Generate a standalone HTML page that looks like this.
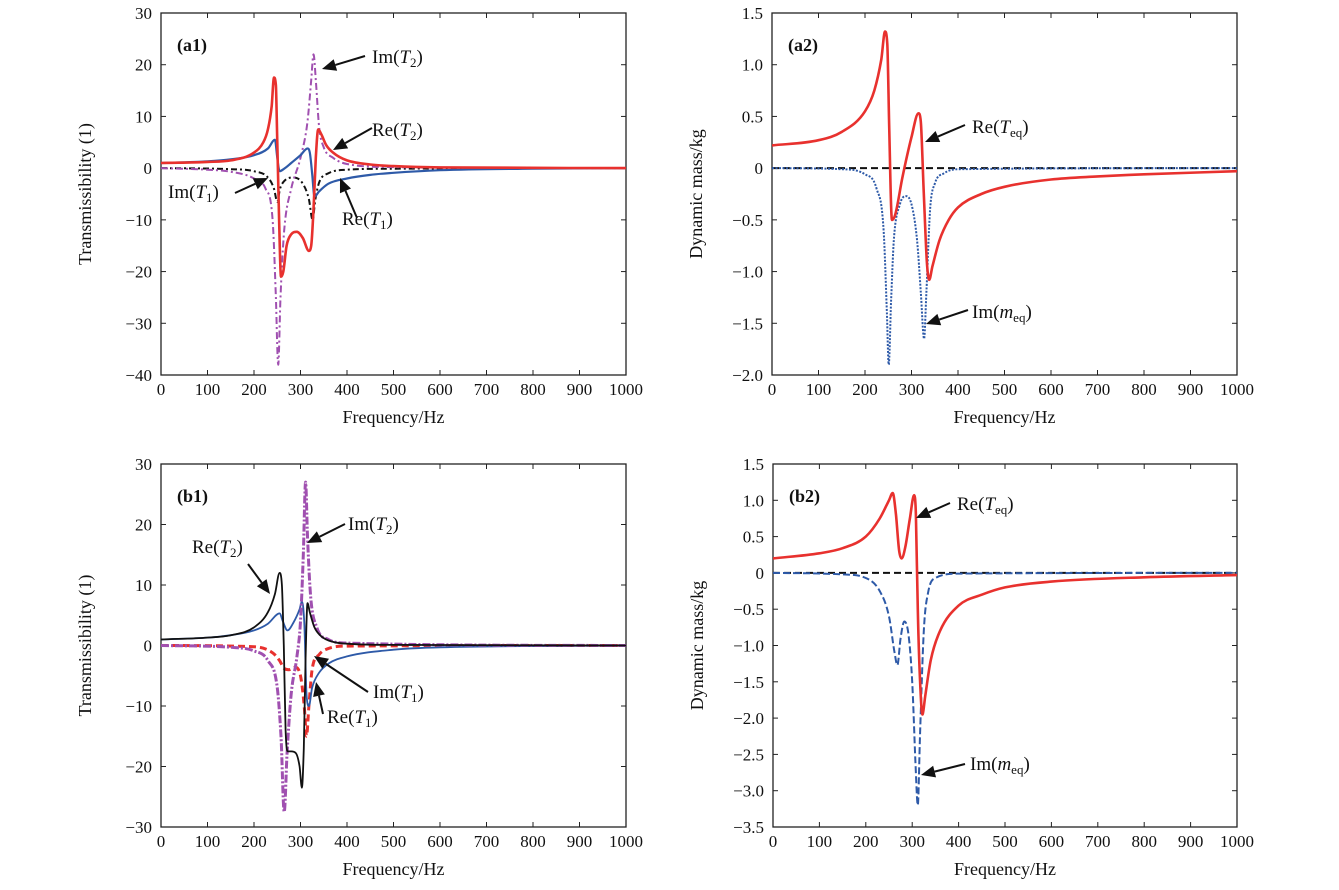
<!DOCTYPE html>
<html><head><meta charset="utf-8">
<style>
html,body{margin:0;padding:0;background:#fff;}
svg{display:block;font-family:"Liberation Serif",serif;}
</style></head>
<body>
<svg id="fig" width="1339" height="890" viewBox="0 0 1339 890" xmlns="http://www.w3.org/2000/svg"></svg>
<script>
// ---- data: [frequency Hz, value] samples ----
const xTicks = [0,100,200,300,400,500,600,700,800,900,1000];
const a1Ticks = [30,20,10,0,-10,-20,-30,-40];
const a2Ticks = [1.5,1.0,0.5,0,-0.5,-1.0,-1.5,-2.0];
const b1Ticks = [30,20,10,0,-10,-20,-30];
const b2Ticks = [1.5,1.0,0.5,0,-0.5,-1.0,-1.5,-2.0,-2.5,-3.0,-3.5];

const a1ReT2 = [[0,1],[100,1.2],[150,1.5],[200,3],[220,5],[230,7.5],[238,12],[243,17.5],[247,16],[250,5],[254,-10],[258,-21],[263,-20],[270,-15],[280,-12.8],[292,-12.3],[305,-13.5],[318,-16],[323,-15],[328,-8],[333,2],[338,7.5],[345,6.5],[355,4.5],[370,3],[400,1.5],[450,0.7],[500,0.4],[600,0.15],[1000,0]];
const a1ReT1 = [[0,1],[100,1.3],[150,1.7],[200,2.5],[230,3.8],[245,5.5],[250,2],[255,-0.6],[265,-0.1],[280,1],[300,2.5],[315,3.8],[320,3],[325,-1],[330,-5.5],[340,-4.5],[360,-3],[400,-2],[450,-1.3],[500,-0.9],[600,-0.4],[800,-0.1],[1000,0]];
const a1ImT2 = [[0,0],[100,-0.3],[150,-0.7],[200,-2],[225,-4],[240,-10],[247,-25],[252,-38],[257,-25],[265,-12],[280,-4],[300,2],[315,9],[323,17],[328,22],[333,17],[340,8],[350,4],[370,2],[400,0.8],[500,0.2],[1000,0]];
const a1ImT1 = [[0,0],[150,-0.2],[200,-0.6],[230,-1.8],[243,-4],[250,-6.5],[256,-4],[265,-2.5],[285,-1.8],[305,-3],[318,-6],[326,-10],[332,-6],[340,-2.8],[360,-1],[400,-0.3],[500,-0.1],[1000,0]];

const a2Re = [[0,0.22],[100,0.27],[150,0.35],[200,0.55],[220,0.75],[235,1.05],[243,1.32],[248,1.2],[252,0.4],[258,-0.5],[265,-0.45],[280,-0.1],[300,0.3],[315,0.53],[320,0.45],[326,-0.2],[333,-0.9],[338,-1.08],[345,-0.95],[360,-0.7],[380,-0.5],[400,-0.38],[450,-0.25],[500,-0.18],[600,-0.11],[700,-0.08],[800,-0.06],[1000,-0.03]];
const a2Im = [[0,0],[150,-0.01],[200,-0.06],[225,-0.2],[240,-0.6],[247,-1.4],[251,-1.9],[256,-1.3],[262,-0.7],[275,-0.35],[288,-0.27],[300,-0.35],[312,-0.7],[320,-1.2],[327,-1.65],[332,-1.2],[340,-0.4],[350,-0.15],[370,-0.05],[400,-0.01],[1000,0]];
const zeroLine = [[0,0],[1000,0]];

const b1ReT2 = [[0,1],[100,1.3],[150,1.7],[200,3],[230,5.5],[245,8.5],[255,12],[260,10],[264,0],[268,-14],[273,-17.5],[280,-17.5],[290,-17.8],[298,-20],[303,-23.5],[307,-17],[311,-2],[315,7],[320,5.5],[330,3],[345,1.5],[370,0.6],[400,0.3],[500,0.1],[1000,0]];
const b1ReT1 = [[0,1],[100,1.3],[150,1.7],[200,2.5],[230,3.6],[255,5.3],[262,4],[272,2.5],[285,3.8],[298,6],[303,7.2],[308,4],[313,-8],[318,-10],[325,-7],[340,-4.5],[360,-3],[400,-1.8],[500,-0.7],[600,-0.3],[1000,0]];
const b1ImT2 = [[0,0],[150,-0.3],[200,-0.9],[230,-2.5],[250,-7],[258,-15],[265,-27.5],[271,-18],[280,-8],[292,-2],[300,4],[306,15],[311,27],[315,18],[322,8],[335,3],[360,1],[400,0.4],[1000,0]];
const b1ImT1 = [[0,0],[200,-0.2],[240,-1.2],[255,-2.5],[265,-3.8],[275,-4],[288,-3.6],[300,-5],[308,-10],[313,-15],[318,-10],[325,-4],[340,-1.5],[360,-0.5],[400,-0.1],[1000,0]];

const b2Re = [[0,0.2],[100,0.27],[150,0.34],[200,0.5],[230,0.75],[250,1.0],[258,1.1],[265,0.8],[272,0.3],[277,0.2],[285,0.35],[295,0.75],[304,1.07],[308,0.8],[312,-0.5],[317,-1.5],[322,-1.95],[328,-1.7],[340,-1.2],[360,-0.8],[400,-0.45],[450,-0.3],[500,-0.2],[600,-0.12],[800,-0.06],[1000,-0.03]];
const b2Im = [[0,0],[150,-0.02],[200,-0.07],[230,-0.25],[250,-0.6],[262,-1.1],[268,-1.27],[275,-0.9],[283,-0.67],[292,-0.85],[300,-1.5],[307,-2.6],[312,-3.2],[317,-2.2],[325,-0.8],[335,-0.25],[350,-0.07],[400,-0.01],[1000,0]];

const NS = "http://www.w3.org/2000/svg";
const svg = document.getElementById('fig');
function mk(tag, attrs, parent){ const e=document.createElementNS(NS,tag); for(const k in attrs) e.setAttribute(k,attrs[k]); (parent||svg).appendChild(e); return e; }
function fmt(v, dec){ if(v===0) return '0'; const s = Math.abs(v).toFixed(dec); return (v<0?'\u2212':'')+s; }

function panel(name, box, yTicks, dec, ylabel, tag){
  const g = mk('g',{});
  
  
  const yMax=yTicks[0], yMin=yTicks[yTicks.length-1];
  const X = v => box.l + (v/1000)*(box.r-box.l);
  const Y = v => box.t + (yMax-v)/(yMax-yMin)*(box.b-box.t);
  const clip = 'clip-'+name;
  const cp = mk('clipPath',{id:clip},g); mk('rect',{x:box.l,y:box.t,width:box.r-box.l,height:box.b-box.t},cp);
  const frame = mk('rect',{x:box.l,y:box.t,width:box.r-box.l,height:box.b-box.t,fill:'none',stroke:'#222','stroke-width':1.3},g);
  
  
  xTicks.forEach(t=>{
    mk('line',{x1:X(t),x2:X(t),y1:box.b,y2:box.b-5,stroke:'#222'},g);
    mk('line',{x1:X(t),x2:X(t),y1:box.t,y2:box.t+5,stroke:'#222'},g);
    const tx = mk('text',{x:X(t),y:box.b+20,'font-size':17,'text-anchor':'middle',fill:'#111'},g);
    tx.textContent=t;
    
    
  });
  yTicks.forEach(t=>{
    mk('line',{x1:box.l,x2:box.l+5,y1:Y(t),y2:Y(t),stroke:'#222'},g);
    mk('line',{x1:box.r,x2:box.r-5,y1:Y(t),y2:Y(t),stroke:'#222'},g);
    const tx = mk('text',{x:box.l-9,y:Y(t)+6,'font-size':17,'text-anchor':'end',fill:'#111'},g);
    tx.textContent=fmt(t,dec);
    
    
  });
  const xl = mk('text',{x:(box.l+box.r)/2,y:box.b+48,'font-size':18,'text-anchor':'middle',fill:'#111'},g);
  xl.textContent='Frequency/Hz';
  
  
  const yx = box.l-70, yy=(box.t+box.b)/2;
  const yl = mk('text',{x:yx,y:yy,'font-size':18,'text-anchor':'middle',fill:'#111',transform:`rotate(-90 ${yx} ${yy})`},g);
  yl.textContent=ylabel;
  
  
  const pl = mk('text',{x:box.l+16,y:box.t+38,'font-size':18,'font-weight':'bold',fill:'#111'},g);
  pl.textContent=tag;
  
  
  const cg = mk('g',{'clip-path':`url(#${clip})`},g);
  return {g, cg, X, Y};
}

// monotone cubic (Fritsch-Carlson) path through screen points
function smoothPath(pts){
  const n=pts.length; if(n<3) return pts.map((p,i)=>(i?'L':'M')+p[0].toFixed(1)+','+p[1].toFixed(1)).join(' ');
  const dx=[],s=[];
  for(let i=0;i<n-1;i++){dx.push(pts[i+1][0]-pts[i][0]); s.push((pts[i+1][1]-pts[i][1])/dx[i]);}
  const m=[s[0]];
  for(let i=1;i<n-1;i++){ m.push(s[i-1]*s[i]<=0?0:(s[i-1]+s[i])/2); }
  m.push(s[n-2]);
  for(let i=0;i<n-1;i++){
    if(s[i]===0){m[i]=0;m[i+1]=0;continue;}
    const a=m[i]/s[i], b=m[i+1]/s[i], h=a*a+b*b;
    if(h>9){const t=3/Math.sqrt(h); m[i]=t*a*s[i]; m[i+1]=t*b*s[i];}
  }
  let d='M'+pts[0][0].toFixed(1)+','+pts[0][1].toFixed(1);
  for(let i=0;i<n-1;i++){
    const h=dx[i]/3;
    d+=' C'+(pts[i][0]+h).toFixed(1)+','+(pts[i][1]+m[i]*h).toFixed(1)+' '+(pts[i+1][0]-h).toFixed(1)+','+(pts[i+1][1]-m[i+1]*h).toFixed(1)+' '+pts[i+1][0].toFixed(1)+','+pts[i+1][1].toFixed(1);
  }
  return d;
}

function series(p, data, name, color, width, dash){
  const pts = data.map(pt=>[p.X(pt[0]), p.Y(pt[1])]);
  const e = mk('path',{d:smoothPath(pts), fill:'none', stroke:color, 'stroke-width':width, 'stroke-linejoin':'round'}, p.cg);
  if(dash) e.setAttribute('stroke-dasharray', dash);
  
  
}

function note(p, name, tx, ty, hx, hy, lx, ly, main, sub){
  const g = mk('g',{},p.g);
  
  
  const ang = Math.atan2(hy-ty, hx-tx);
  const L=14, W=6;
  const bx = hx - L*Math.cos(ang), by = hy - L*Math.sin(ang);
  mk('line',{x1:tx,y1:ty,x2:bx,y2:by,stroke:'#111','stroke-width':2},g);
  mk('polygon',{points:`${hx},${hy} ${bx+W*Math.sin(ang)},${by-W*Math.cos(ang)} ${bx-W*Math.sin(ang)},${by+W*Math.cos(ang)}`,fill:'#111'},g);
  const t = mk('text',{x:lx,y:ly,'font-size':19,fill:'#111'},g);
  const a = mk('tspan',{},t); a.textContent = main+'(';
  const b = mk('tspan',{'font-style':'italic'},t); b.textContent = sub[0];
  const c = mk('tspan',{'font-size':13,dy:4},t); c.textContent = sub[1];
  const d = mk('tspan',{dy:-4},t); d.textContent = ')';
}

const RED='#e8312e', BLUE='#2e5aa8', PURP='#a050b0', BLK='#111';

// (a1)
const a1 = panel('panel-a1',{l:161,r:626,t:13,b:375},a1Ticks,0,'Transmissibility (1)','(a1)');
series(a1,a1ImT1,'line-im-t1','#111',2,'6 3 2 3');
series(a1,a1ImT2,'line-im-t2',PURP,2,'7 3 2 3');
series(a1,a1ReT1,'line-re-t1',BLUE,2.2);
series(a1,a1ReT2,'line-re-t2',RED,2.6);
note(a1,'annotation-im-t2',365,56,322,69,372,63,'Im',['T','2']);
note(a1,'annotation-re-t2',372,128,333,150,372,136,'Re',['T','2']);
note(a1,'annotation-im-t1',235,193,268,178,168,198,'Im',['T','1']);
note(a1,'annotation-re-t1',357,218,340,178,342,225,'Re',['T','1']);

// (a2)
const a2 = panel('panel-a2',{l:772,r:1237,t:13,b:375},a2Ticks,1,'Dynamic mass/kg','(a2)');
series(a2,zeroLine,'zero-line',BLK,2,'7 4');
series(a2,a2Im,'line-im-meq',BLUE,2,'2 1.5');
series(a2,a2Re,'line-re-teq',RED,2.6);
note(a2,'annotation-re-teq',965,125,925,142,972,133,'Re',['T','eq']);
note(a2,'annotation-im-meq',968,310,926,324,972,318,'Im',['m','eq']);

// (b1)
const b1 = panel('panel-b1',{l:161,r:626,t:464,b:827},b1Ticks,0,'Transmissibility (1)','(b1)');
series(b1,b1ImT1,'line-im-t1',RED,3,'7 4');
series(b1,b1ReT1,'line-re-t1',BLUE,1.8);
series(b1,b1ImT2,'line-im-t2',PURP,3,'8 2 2 2');
series(b1,b1ReT2,'line-re-t2',BLK,1.8);
note(b1,'annotation-im-t2',345,524,307,543,348,530,'Im',['T','2']);
note(b1,'annotation-re-t2',248,564,270,594,192,553,'Re',['T','2']);
note(b1,'annotation-im-t1',368,692,314,656,373,698,'Im',['T','1']);
note(b1,'annotation-re-t1',323,714,316,682,327,723,'Re',['T','1']);

// (b2)
const b2 = panel('panel-b2',{l:773,r:1237,t:464,b:827},b2Ticks,1,'Dynamic mass/kg','(b2)');
series(b2,zeroLine,'zero-line',BLK,2,'7 4');
series(b2,b2Im,'line-im-meq',BLUE,2,'7 3');
series(b2,b2Re,'line-re-teq',RED,2.6);
note(b2,'annotation-re-teq',950,503,916,518,957,510,'Re',['T','eq']);
note(b2,'annotation-im-meq',965,764,921,775,970,770,'Im',['m','eq']);
</script>
</body></html>
